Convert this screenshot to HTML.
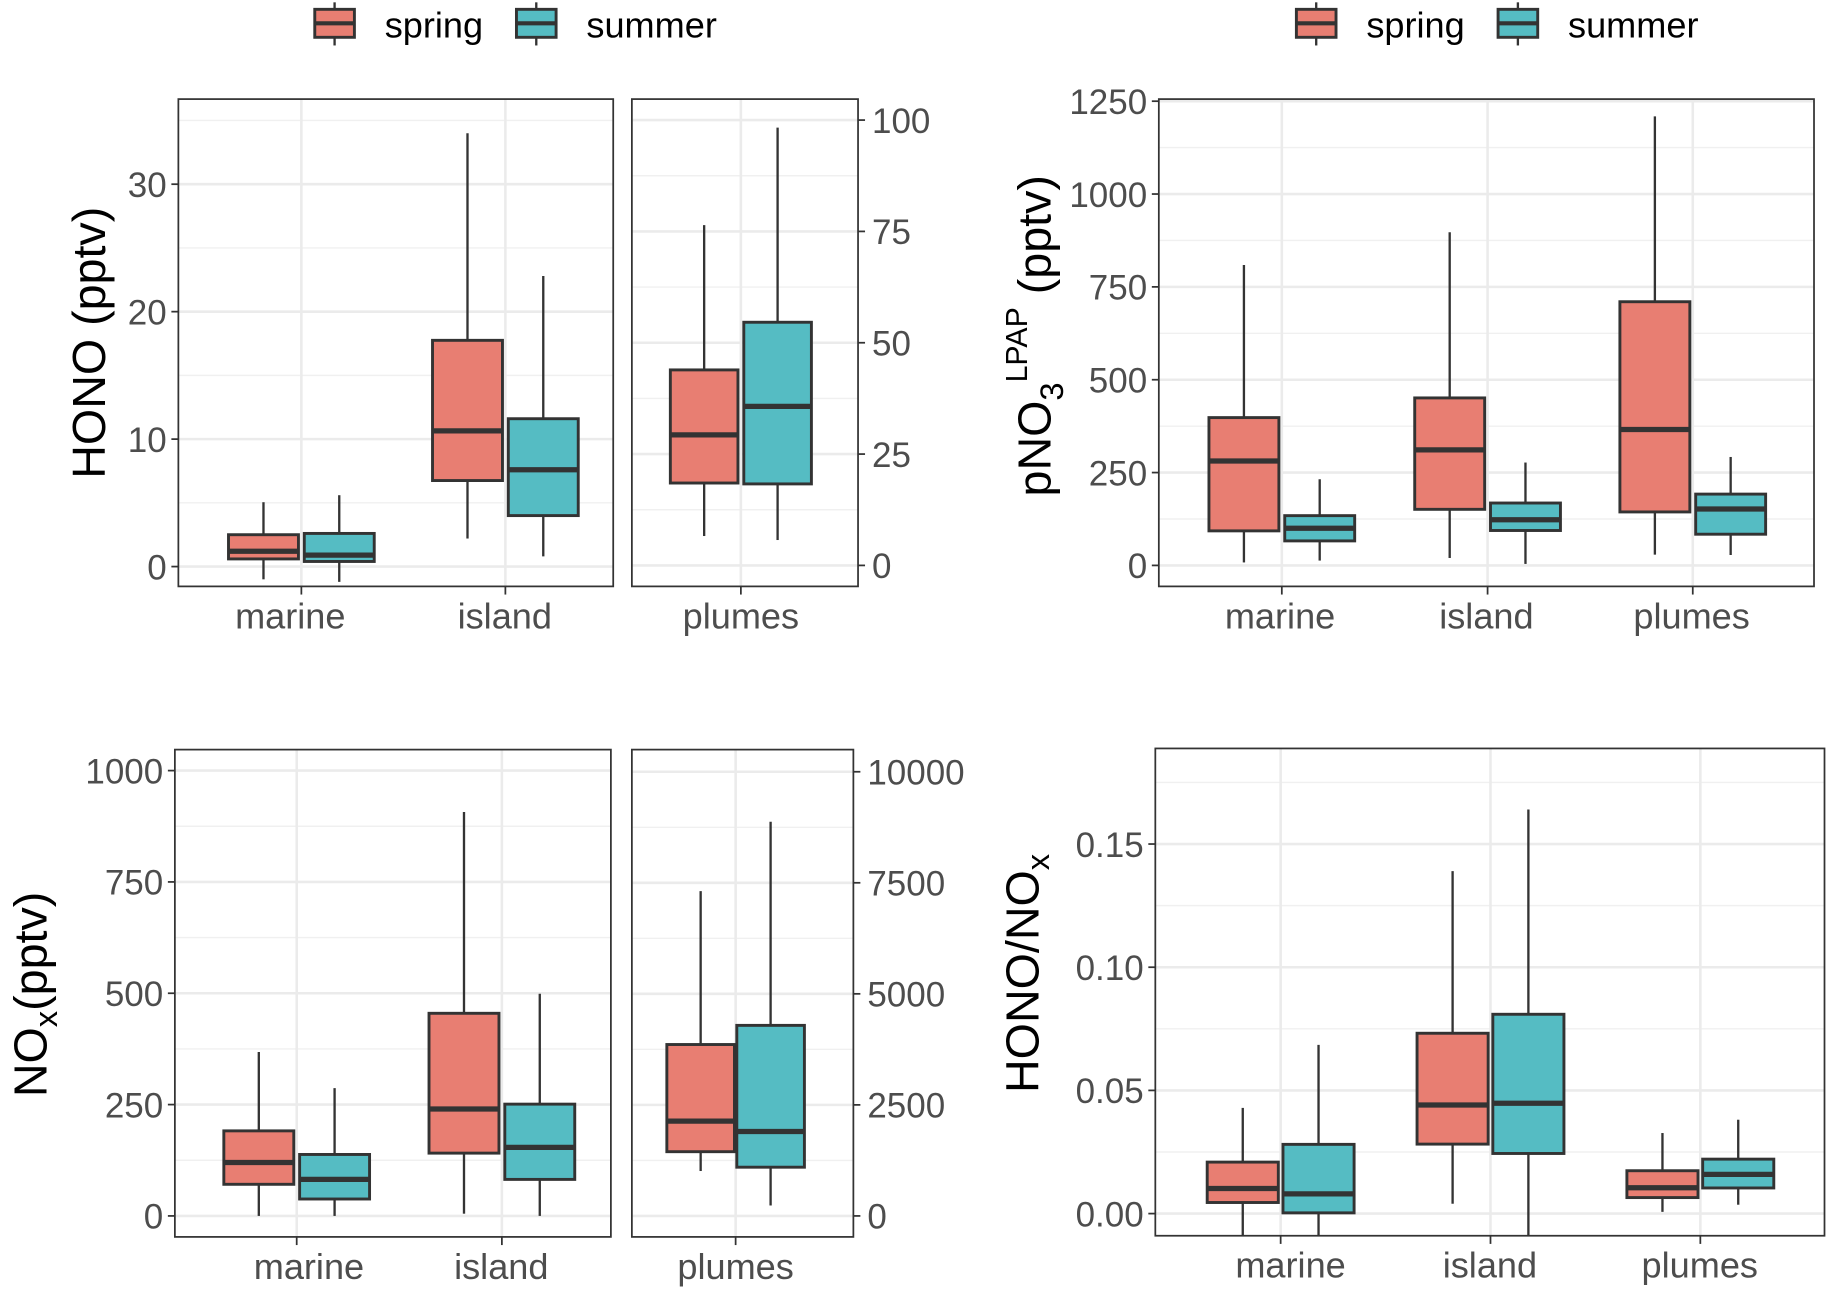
<!DOCTYPE html>
<html><head><meta charset="utf-8"><style>
html,body{margin:0;padding:0;background:#fff}
svg{display:block}
text{font-family:"Liberation Sans",sans-serif}
</style></head><body>
<svg id="fig" width="1828" height="1291" viewBox="0 0 1568 1107.4" preserveAspectRatio="none" xmlns="http://www.w3.org/2000/svg"></svg>
<script>
// ---- data: [low, q1, median, q3, high] per category per season ----
const categories = ["marine","island","plumes"];
const seasons = ["spring","summer"];
const honoSpring = [[-1.0,0.6,1.2,2.5,5.05],[2.2,6.75,10.65,17.75,34.0],[6.6,18.5,29.3,43.9,76.4]];
const honoSummer = [[-1.2,0.4,0.9,2.6,5.6],[0.8,4.0,7.6,11.6,22.8],[5.7,18.3,35.7,54.6,98.3]];
const pno3Spring = [[8,93,281,398,809],[20,151,311,451,897],[29,144,366,710,1209]];
const pno3Summer = [[13,66,100,134,232],[4,94,123,168,277],[28,84,152,192,292]];
const noxSpring = [[0,71,120,191,368],[5,141,240,455,907],[1011,1446,2134,3859,7312]];
const noxSummer = [[0,38,82,138,287],[0,82,154,251,499],[235,1097,1901,4290,8874]];
const ratioSpring = [[-0.012,0.0045,0.0102,0.0209,0.0429],[0.004,0.0282,0.0441,0.0732,0.139],[0.0007,0.0065,0.0105,0.0174,0.0327]];
const ratioSummer = [[-0.012,0.0003,0.008,0.0281,0.0685],[-0.015,0.0244,0.0448,0.0809,0.164],[0.0036,0.0104,0.0159,0.0221,0.0381]];
const honoTicks = [0,10,20,30];
const honoPlumeTicks = [0,25,50,75,100];
const pno3Ticks = [0,250,500,750,1000,1250];
const noxTicks = [0,250,500,750,1000];
const noxPlumeTicks = [0,2500,5000,7500,10000];
const ratioTicks = [0,0.05,0.10,0.15];
const ratioTickLabels = ["0.00","0.05","0.10","0.15"];

const NS="http://www.w3.org/2000/svg";
const svg=document.getElementById('fig');
const COL={spring:"#e87e72",summer:"#55bcc3"};
function mk(tag,attrs,parent){const e=document.createElementNS(NS,tag);for(const k in attrs)e.setAttribute(k,attrs[k]);(parent||svg).appendChild(e);return e;}
function lin(v0,p0,v1,p1){return v=>p0+(v-v0)*(p1-p0)/(v1-v0);}

function panel(o){
  const g=mk('g',{});
  
  
  const y=o.y;
  for(let i=0;i<o.ticks.length;i++){
    const t=o.ticks[i];
    const step=o.ticks[1]-o.ticks[0];
    const mv=t+step/2; const my=y(mv);
    if(my>o.y0 && my<o.y1) mk('line',{x1:o.x0,x2:o.x1,y1:my,y2:my,stroke:"#f0f0f0","stroke-width":1.2},g);
    const ty=y(t);
    const gl=mk('line',{x1:o.x0,x2:o.x1,y1:ty,y2:ty,stroke:"#ebebeb","stroke-width":2.2},g);
    
    
    if(o.labelSide==='left'){
      mk('line',{x1:o.x0-6,x2:o.x0,y1:ty,y2:ty,stroke:"#333","stroke-width":1.5},g);
      const tx=mk('text',{x:o.x0-10,y:ty+11,"text-anchor":"end","font-size":30,fill:"#4d4d4d"},g);
      tx.textContent=o.labels?o.labels[i]:t;
      
      
    } else {
      mk('line',{x1:o.x1,x2:o.x1+6,y1:ty,y2:ty,stroke:"#333","stroke-width":1.5},g);
      const tx=mk('text',{x:o.x1+12,y:ty+11,"text-anchor":"start","font-size":30,fill:"#4d4d4d"},g);
      tx.textContent=t;
      
      
    }
  }
  o.cats.forEach(ci=>{
    const cx=o.cx[ci];
    mk('line',{x1:cx,x2:cx,y1:o.y0,y2:o.y1,stroke:"#ebebeb","stroke-width":2.2},g);
    mk('line',{x1:cx,x2:cx,y1:o.y1,y2:o.y1+7,stroke:"#333","stroke-width":1.5},g);
    const lx=(o.lx&&o.lx[ci]!==undefined)?o.lx[ci]:cx;
    const lb=mk('text',{x:lx,y:o.y1+36,"text-anchor":"middle","font-size":31,fill:"#4d4d4d"},g);
    lb.textContent=categories[ci];
    
    
    [o.spring,o.summer].forEach((arr,si)=>{
      const d=arr[ci];
      const bx=cx+(si===0?-o.off:o.off);
      const bg=mk('g',{},g);
      
      
      const clip=v=>Math.min(o.y1,Math.max(o.y0,y(v)));
      mk('line',{x1:bx,x2:bx,y1:clip(d[0]),y2:y(d[1]),stroke:"#333","stroke-width":2},bg);
      mk('line',{x1:bx,x2:bx,y1:y(d[3]),y2:clip(d[4]),stroke:"#333","stroke-width":2},bg);
      mk('rect',{x:bx-o.w/2,y:y(d[3]),width:o.w,height:y(d[1])-y(d[3]),fill:COL[seasons[si]],stroke:"#333","stroke-width":2.5},bg);
      mk('line',{x1:bx-o.w/2,x2:bx+o.w/2,y1:y(d[2]),y2:y(d[2]),stroke:"#333","stroke-width":4.5},bg);
    });
  });
  const fr=mk('rect',{x:o.x0,y:o.y0,width:o.x1-o.x0,height:o.y1-o.y0,fill:"none",stroke:"#333","stroke-width":1.5},g);
  
  
}

panel({name:'hono-panel-main',x0:153,x1:526,y0:85,y1:503,y:lin(0,486,30,158),ticks:honoTicks,labelSide:'left',
  cats:[0,1],cx:{0:258.5,1:433.5},lx:{0:249,1:433},off:32.5,w:60,spring:honoSpring,summer:honoSummer});
panel({name:'hono-panel-plumes',x0:542,x1:736,y0:85,y1:503,y:lin(0,485,100,103),ticks:honoPlumeTicks,labelSide:'right',
  cats:[2],cx:{2:635.5},off:31.5,w:58,spring:honoSpring,summer:honoSummer});
panel({name:'pno3-panel',x0:994,x1:1556,y0:85,y1:503,y:lin(0,485,1250,86.8),ticks:pno3Ticks,labelSide:'left',
  cats:[0,1,2],cx:{0:1099.5,1:1276,2:1452},lx:{0:1098,1:1275,2:1451},off:32.5,w:60,spring:pno3Spring,summer:pno3Summer});
panel({name:'nox-panel-main',x0:150,x1:524,y0:643,y1:1061,y:lin(0,1043,1000,661),ticks:noxTicks,labelSide:'left',
  cats:[0,1],cx:{0:254.5,1:430.5},lx:{0:265,1:430},off:32.5,w:60,spring:noxSpring,summer:noxSummer});
panel({name:'nox-panel-plumes',x0:542,x1:732,y0:643,y1:1061,y:lin(0,1043,10000,662),ticks:noxPlumeTicks,labelSide:'right',
  cats:[2],cx:{2:631},off:30,w:58,spring:noxSpring,summer:noxSummer});
panel({name:'ratio-panel',x0:991,x1:1565,y0:642,y1:1060,y:lin(0,1041,0.15,724),ticks:ratioTicks,labels:ratioTickLabels,labelSide:'left',
  cats:[0,1,2],cx:{0:1098.5,1:1278.5,2:1458.5},lx:{0:1107,1:1278,2:1458},off:32.5,w:61,spring:ratioSpring,summer:ratioSummer});

function title(x,y,html,name){
  const t=mk('text',{x:0,y:0,transform:`translate(${x},${y}) rotate(-90)`,"text-anchor":"middle","font-size":40,fill:"#000"});
  t.innerHTML=html;
  
  
}
title(90,294,'HONO (pptv)','y-axis-title-hono');
title(901,288,'pNO<tspan font-size="28" dy="11">3</tspan><tspan font-size="26" dy="-31">LPAP</tspan><tspan dy="20"> (pptv)</tspan>','y-axis-title-pno3');
title(40,853,'NO<tspan font-size="28" dy="9">x</tspan><tspan dy="-9">(pptv)</tspan>','y-axis-title-nox');
title(891,835,'HONO/NO<tspan font-size="28" dy="9">x</tspan>','y-axis-title-ratio');

function legend(x0,name){
  const g=mk('g',{});
  
  
  const pos=[x0,x0+173];
  seasons.forEach((s,i)=>{
    const kx=pos[i];
    const kg=mk('g',{},g);
    
    
    mk('line',{x1:kx+17,x2:kx+17,y1:2,y2:39,stroke:"#333","stroke-width":2},kg);
    mk('rect',{x:kx,y:8,width:34,height:24,fill:COL[s],stroke:"#333","stroke-width":2.5},kg);
    mk('line',{x1:kx,x2:kx+34,y1:20,y2:20,stroke:"#333","stroke-width":3.5},kg);
    const t=mk('text',{x:kx+60,y:32,"font-size":31,fill:"#000"},kg);
    t.textContent=s;
  });
}
legend(270,'legend-top-left');
legend(1112,'legend-top-right');
</script>
</body></html>
